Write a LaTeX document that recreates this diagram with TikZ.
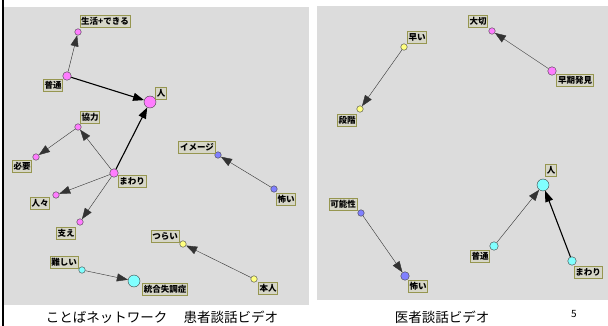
\documentclass[tikz,border=0pt]{standalone}
\usepackage{fontspec}
\setmainfont{Noto Sans CJK JP}
\usetikzlibrary{arrows.meta, positioning}
\definecolor{panelgray}{RGB}{220,220,220}
\definecolor{tagfill}{RGB}{214,214,200}
\definecolor{tagdraw}{RGB}{150,150,80}
\definecolor{wpink}{RGB}{255,125,255}
\definecolor{wblue}{RGB}{128,128,255}
\definecolor{wcyan}{RGB}{128,255,255}
\definecolor{wyellow}{RGB}{255,255,128}
\tikzstyle{word} = [circle, draw=black!75, line width=0.4pt, inner sep=0pt, minimum size=6.5pt]
\tikzstyle{midword} = [word, minimum size=8.5pt]
\tikzstyle{bigword} = [word, minimum size=12pt]
\tikzstyle{tag} = [rectangle, draw=tagdraw, fill=tagfill, line width=0.8pt, inner xsep=1.2pt, inner ysep=0.5pt, minimum height=12pt, font=\fontsize{8.5}{9}\selectfont\bfseries]
\tikzstyle{link} = [line width=0.4pt, black!80, -{Triangle[length=11pt,width=8pt]}]
\tikzstyle{strong} = [line width=1.1pt, black, -{Triangle[length=11pt,width=8pt]}]
\begin{document}
\begin{tikzpicture}[x=1pt, y=-1pt]
		\useasboundingbox (0,0) rectangle (608,326);
		% panels
		\fill[panelgray] (4,7) rectangle (309,305);
		\fill[panelgray] (317,6) rectangle (608,300);
		\fill[black] (2,0) rectangle (4,326);
		% patient video
		\node (seikatsu) [word, fill=wpink] at (78,32) {};
		\node (futsuA) [midword, fill=wpink] at (67,76) {};
		\node (hitoA) [bigword, fill=wpink] at (150,102) {};
		\node (kyoryoku) [word, fill=wpink] at (78,127) {};
		\node (hitsuyo) [word, fill=wpink] at (36,157) {};
		\node (mawariA) [midword, fill=wpink] at (114,173) {};
		\node (hitobito) [word, fill=wpink] at (56,195) {};
		\node (sasae) [word, fill=wpink] at (80,222) {};
		\node (image) [word, fill=wblue] at (218,155) {};
		\node (kowaiA) [word, fill=wblue] at (274,189) {};
		\node (tsurai) [word, fill=wyellow] at (183,244) {};
		\node (honnin) [word, fill=wyellow] at (254,279) {};
		\node (muzukashii) [word, fill=wcyan] at (82,270) {};
		\node (togo) [bigword, fill=wcyan] at (134,281) {};
		\node (seikatsuT) [tag] at (105,21) {生活+できる};
		\node (futsuAT) [tag] at (53,85) {普通};
		\node (hitoAT) [tag] at (161,93) {人};
		\node (kyoryokuT) [tag] at (90,117) {協力};
		\node (hitsuyoT) [tag] at (22,166) {必要};
		\node (mawariAT) [tag] at (132,181) {まわり};
		\node (hitobitoT) [tag] at (40,203) {人々};
		\node (sasaeT) [tag] at (66,233) {支え};
		\node (imageT) [tag] at (197,147) {イメージ};
		\node (kowaiAT) [tag] at (286,199) {怖い};
		\node (tsuraiT) [tag] at (165,236) {つらい};
		\node (honninT) [tag] at (268,288) {本人};
		\node (muzukashiiT) [tag] at (64,262) {難しい};
		\node (togoT) [tag] at (165,289) {統合失調症};
		\draw [link] (futsuA) -- (seikatsu);
		\draw [strong] (futsuA) -- (hitoA);
		\draw [strong] (mawariA) -- (hitoA);
		\draw [link] (mawariA) -- (kyoryoku);
		\draw [link] (kyoryoku) -- (hitsuyo);
		\draw [link] (mawariA) -- (hitobito);
		\draw [link] (mawariA) -- (sasae);
		\draw [link] (kowaiA) -- (image);
		\draw [link] (honnin) -- (tsurai);
		\draw [link] (muzukashii) -- (togo);
		% doctor video
		\node (hayai) [word, fill=wyellow] at (404,47) {};
		\node (dankai) [word, fill=wyellow] at (360,109) {};
		\node (taisetsu) [word, fill=wpink] at (492,31) {};
		\node (soki) [midword, fill=wpink] at (552,71) {};
		\node (kanosei) [word, fill=wblue] at (361,213) {};
		\node (kowaiB) [midword, fill=wblue] at (405,276) {};
		\node (hitoB) [bigword, fill=wcyan] at (543,185) {};
		\node (futsuB) [midword, fill=wcyan] at (494,246) {};
		\node (mawariB) [midword, fill=wcyan] at (572,261) {};
		\node (hayaiT) [tag] at (417,37) {早い};
		\node (dankaiT) [tag] at (347,120) {段階};
		\node (taisetsuT) [tag] at (478,21) {大切};
		\node (sokiT) [tag] at (575,80) {早期発見};
		\node (kanoseiT) [tag] at (343,204) {可能性};
		\node (kowaiBT) [tag] at (418,286) {怖い};
		\node (hitoBT) [tag] at (551,170) {人};
		\node (futsuBT) [tag] at (480,256) {普通};
		\node (mawariBT) [tag] at (588,272) {まわり};
		\draw [link] (hayai) -- (dankai);
		\draw [link] (soki) -- (taisetsu);
		\draw [link] (kanosei) -- (kowaiB);
		\draw [link] (futsuB) -- (hitoB);
		\draw [strong] (mawariB) -- (hitoB);
		% captions
		\node (capA) [font=\fontsize{13.5}{14}\selectfont] at (162,317) {ことばネットワーク\hspace{1.2em}患者談話ビデオ};
		\node (capB) [font=\fontsize{13.5}{14}\selectfont] at (442,317) {医者談話ビデオ};
		\node (page) [font=\fontsize{10}{11}\selectfont] at (574,314) {5};
\end{tikzpicture}
\end{document}
